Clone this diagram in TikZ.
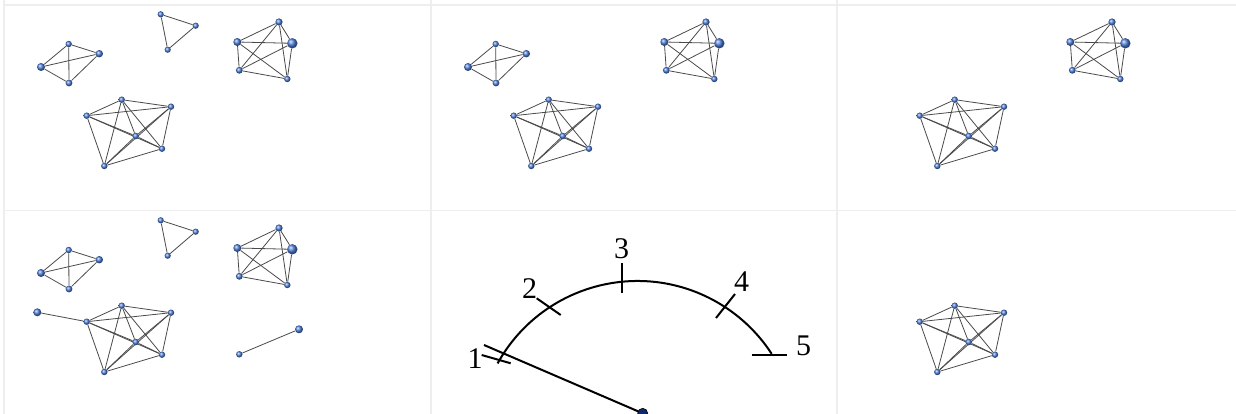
\documentclass[tikz,border=0pt]{standalone}
\usepackage{fontspec}
\setmainfont{Liberation Serif}
\usetikzlibrary{backgrounds}
\definecolor{framec}{HTML}{EEEEEE}
\definecolor{edgec}{HTML}{4A4A4A}
\definecolor{nodeblue}{HTML}{4F80DC}
\definecolor{pivotc}{HTML}{0D2B6B}
\tikzset{
  vtx/.style={circle, inner sep=0pt, minimum size=#1, shading=ball, ball color=nodeblue},
  vtx/.default=6.4pt,
  edge/.style={draw=edgec, line width=0.8pt},
  gline/.style={line width=2pt, draw=black},
  framel/.style={draw=framec, line width=1.5pt},
  lbl/.style={font=\fontsize{30}{32}\selectfont, inner sep=0pt},
}
\newcommand\graphA{%
  \node[vtx=6.4pt] (a1) at (68.7,44) {};
  \node[vtx=7.4pt] (a2) at (99.3,53.7) {};
  \node[vtx=8pt] (a3) at (41,67) {};
  \node[vtx=6.8pt] (a4) at (69,83) {};
  \begin{pgfonlayer}{background}
  \foreach \u/\v in {a1/a2,a1/a3,a1/a4,a2/a3,a2/a4,a3/a4} \draw[edge] (\u) -- (\v);
  \end{pgfonlayer}}
\newcommand\graphT{%
  \node[vtx=6.2pt] (t1) at (160.7,14.3) {};
  \node[vtx=6.2pt] (t2) at (195.7,25.7) {};
  \node[vtx=6.2pt] (t3) at (167.7,49.7) {};
  \begin{pgfonlayer}{background}
  \foreach \u/\v in {t1/t2,t2/t3,t1/t3} \draw[edge] (\u) -- (\v);
  \end{pgfonlayer}}
\newcommand\graphB{%
  \node[vtx=7.2pt] (b1) at (279,22) {};
  \node[vtx=8pt] (b2) at (237.3,42) {};
  \node[vtx=10.4pt] (b3) at (292.3,43.3) {};
  \node[vtx=6.8pt] (b4) at (239.3,70.3) {};
  \node[vtx=6.4pt] (b5) at (287.3,79) {};
  \begin{pgfonlayer}{background}
  \foreach \u/\v in {b1/b2,b1/b3,b1/b4,b1/b5,b2/b3,b2/b4,b2/b5,b3/b4,b3/b5,b4/b5} \draw[edge] (\u) -- (\v);
  \end{pgfonlayer}}
\newcommand\graphC{%
  \node[vtx=6.4pt] (c1) at (121.7,99.7) {};
  \node[vtx=6.4pt] (c2) at (171,106.7) {};
  \node[vtx=6.4pt] (c3) at (86.7,115.7) {};
  \node[vtx=6.6pt] (c4) at (135.7,136) {};
  \node[vtx=6.4pt] (c5) at (162,148.7) {};
  \node[vtx=6.4pt] (c6) at (104.3,166) {};
  \begin{pgfonlayer}{background}
  \foreach \u/\v in {c1/c2,c1/c3,c1/c4,c1/c5,c1/c6,c2/c3,c2/c4,c2/c5,c2/c6,c3/c4,c3/c5,c3/c6,c4/c5,c4/c6,c5/c6} \draw[edge] (\u) -- (\v);
  \end{pgfonlayer}}
\begin{document}
\begin{tikzpicture}[x=1pt,y=-1pt]
\useasboundingbox (0,0) rectangle (1236,414);
\begin{pgfonlayer}{background}
\fill[white] (0,0) rectangle (1236,414);
% panel frames
\coordinate (fl0) at (4,0);    \coordinate (fl1) at (4,414);
\coordinate (fm0) at (431,0);  \coordinate (fm1) at (431,414);
\coordinate (fr0) at (837,0);  \coordinate (fr1) at (837,414);
\coordinate (ft0) at (4,5);    \coordinate (ft1) at (1236,5);
\coordinate (fh0) at (4,210.7);\coordinate (fh1) at (1236,210.7);
\draw[framel] (fl0) -- (fl1);
\draw[framel] (fm0) -- (fm1);
\draw[framel] (fr0) -- (fr1);
\draw[framel] (ft0) -- (ft1);
\draw[framel] (fh0) -- (fh1);
\end{pgfonlayer}
% panel 1
\begin{scope}[name prefix=p1-]
  \graphA \graphT \graphB \graphC
\end{scope}
% panel 2
\begin{scope}[shift={(427,0)}, name prefix=p2-]
  \graphA \graphB \graphC
\end{scope}
% panel 3
\begin{scope}[shift={(833,0)}, name prefix=p3-]
  \graphB \graphC
\end{scope}
% panel 4
\begin{scope}[shift={(0,206)}, name prefix=p4-]
  \graphA \graphT \graphB \graphC
  \node[vtx=8pt] (e1) at (37.3,106.3) {};
  \node[vtx=8pt] (q1) at (299,123.3) {};
  \node[vtx=6.4pt] (q2) at (239.3,148.3) {};
  \begin{pgfonlayer}{background}
    \draw[edge] (e1) -- (c3);
    \draw[edge] (q1) -- (q2);
  \end{pgfonlayer}
\end{scope}
% panel 6
\begin{scope}[shift={(833,206)}, name prefix=p6-]
  \graphC
\end{scope}
% panel 5: gauge
\coordinate (ctr) at (637.5,441);
\draw[gline] ([shift={(151:160pt)}]ctr) arc[start angle=151, end angle=33, radius=160pt];
\coordinate (k1a) at (481.7,355);   \coordinate (k1b) at (510.7,363.3);
\coordinate (k2a) at (536.7,298.3); \coordinate (k2b) at (560.7,315);
\coordinate (k3a) at (622.3,263.3); \coordinate (k3b) at (622.3,292.7);
\coordinate (k4a) at (716,318);     \coordinate (k4b) at (735,294);
\coordinate (k5a) at (751.7,355);   \coordinate (k5b) at (787.3,355);
\draw[gline] (k1a) -- (k1b);
\draw[gline] (k2a) -- (k2b);
\draw[gline] (k3a) -- (k3b);
\draw[gline] (k4a) -- (k4b);
\draw[gline] (k5a) -- (k5b);
\node[lbl] (l1) at (475,359) {1};
\node[lbl] (l2) at (529.5,288.5) {2};
\node[lbl] (l3) at (621.7,249) {3};
\node[lbl] (l4) at (741.5,282) {4};
\node[lbl] (l5) at (803.5,346) {5};
\coordinate (pvc) at (642.7,413.3);
\coordinate (ntip) at (484,345);
\draw[gline] (pvc) -- (ntip);
\node[circle, fill=pivotc, draw=black, line width=0.6pt, minimum size=10pt, inner sep=0pt] (pv) at (pvc) {};
\end{tikzpicture}
\end{document}
